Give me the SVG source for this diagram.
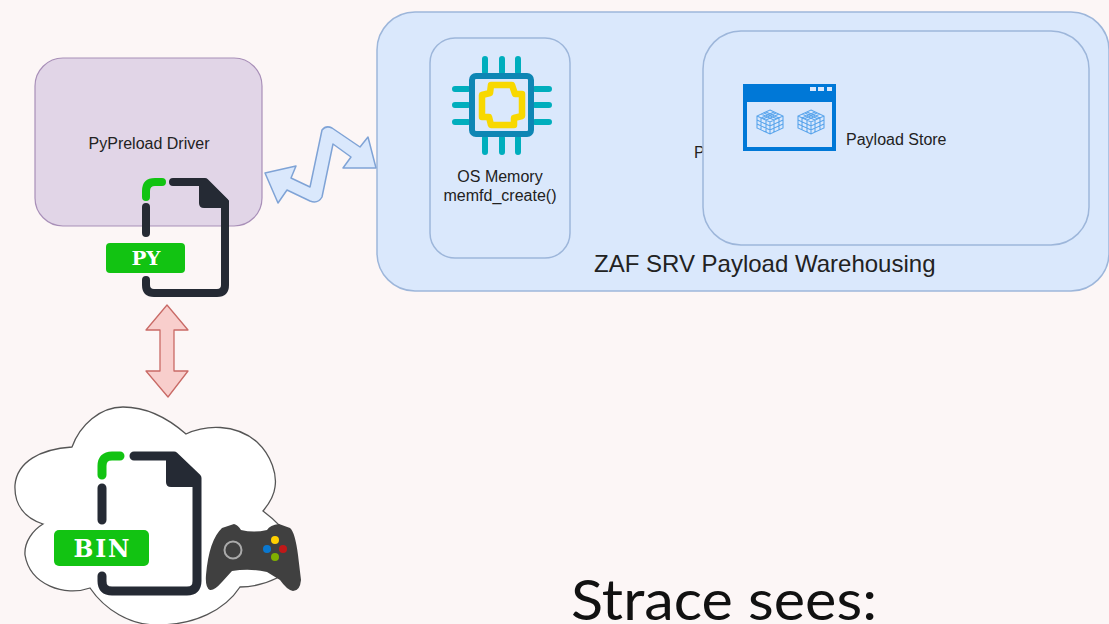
<svg xmlns="http://www.w3.org/2000/svg" width="1109" height="624" viewBox="0 0 1109 624">
<style>
.t{font-family:"Liberation Sans",Arial,sans-serif;fill:#222}
.m{font-family:"DejaVu Serif",serif;font-weight:bold;fill:#fff;text-anchor:middle}
.blue{fill:#dae8fc;stroke:#9db6da;stroke-width:1.5}
.dark{fill:none;stroke:#252a34;stroke-linecap:round;stroke-linejoin:round}
.green{fill:none;stroke:#12c312;stroke-linecap:round}
.pin{stroke:#00aebd;stroke-width:6;stroke-linecap:round}
.cube{fill:none;stroke:#5aa5ec;stroke-width:1.1}
</style>
<defs>
<g id="cube">
<path class="cube" d="M0-12 13-6V6L0 12-13 6V-6Z M-13-6 0 0 13-6 M0 0V12 M-13-2 0 4 13-2 M-13 2 0 8 13 2 M-9-8 4-2V10 M-4-10 9-4V8 M9-8-4-2V10 M4-10-9-4V8 M-6-9 7-3 M6-9-7-3"/>
</g>
</defs>
<rect width="1109" height="624" fill="#fcf6f6"/>
<g id="warehouse">
<rect class="blue" x="377" y="12" width="732" height="279" rx="38"/>
<text class="t" x="594" y="271.500" font-size="24">ZAF SRV Payload Warehousing</text>
</g>
<g id="driver">
<rect x="35" y="58" width="227" height="168" rx="28" fill="#e1d5e7" stroke="#a88fb8" stroke-width="1.2"/>
<text class="t" x="149" y="148.500" font-size="16" text-anchor="middle">PyPreload Driver</text>
</g>
<g id="py-file">
<path class="green" stroke-width="8" d="M162 182H155Q146 182 146 191V197"/>
<path class="dark" stroke-width="8" d="M146 207V233M146 280V285Q146 293 154 293H217Q225 293 225 285V202L205 182H173"/>
<path d="M199 180H207L229 201V208H204Q199 208 199 203Z" fill="#252a34"/>
<rect x="106" y="243" width="79" height="30" rx="4" fill="#12c312"/>
<text class="m" x="146" y="265" font-size="19" textLength="29" lengthAdjust="spacingAndGlyphs">PY</text>
</g>
<g id="memory">
<rect class="blue" x="430" y="38" width="140" height="220" rx="25"/>
<path class="pin" d="M485 59V72M502 59V72M518 59V72M485 138V152M502 138V152M518 138V152M455 89H468M455 105H468M455 122H468M535 89H549M535 105H549M535 122H549"/>
<rect x="472" y="76" width="59" height="58" rx="4" fill="#dae8fc" stroke="#0e86b4" stroke-width="6"/>
<path d="M491 85H512L515 94H522V116L514 118V125H491L489 117H482V95L490 93Z" fill="none" stroke="#f8d800" stroke-width="6.500" stroke-linejoin="round"/>
<text class="t" x="500" y="181.500" font-size="16" text-anchor="middle">OS Memory</text>
<text class="t" x="500" y="200.500" font-size="16" text-anchor="middle">memfd_create()</text>
</g>
<text class="t" x="694" y="157.500" font-size="16">P</text>
<g id="store">
<rect class="blue" x="703" y="31" width="386" height="214" rx="38"/>
<rect x="745" y="86" width="89" height="63" fill="none" stroke="#0078d7" stroke-width="4"/>
<rect x="743" y="84" width="93" height="18" fill="#0078d7"/>
<path d="M810 87h6v4h-6zM818 87h6v4h-6zM827 87h5v4h-5z" fill="#dae8fc"/>
<use href="#cube" x="770" y="122"/>
<use href="#cube" x="811" y="122"/>
<text class="t" x="846" y="144.500" font-size="16">Payload Store</text>
</g>
<g id="connectors">
<path d="M265 173 296 166 291 178 310 187 322 130Q326 125 332 128L360 147 368 137 376 168H343L351 157 333 144 322 197Q318 204 310 201L287 190 278 203Z" fill="#dae8fc" stroke="#7fa3d6" stroke-width="1.500" stroke-linejoin="round"/>
<path d="M167 305 188 330H174V371H188L168 397 146 371H160V330H146Z" fill="#f8cecc" stroke="#c96a66" stroke-width="1.300" stroke-linejoin="round"/>
</g>
<g id="cloud">
<path d="M72 447C80 425 100 407 123 407C148 407 170 420 186 434C205 425 235 423 257 442C272 456 277 475 275 487C274 497 268 505 263 511C275 520 285 530 290 540L277 578C265 584 252 587 240 587C225 610 195 625 157 625C130 625 105 610 90 588C65 597 30 585 25 555C24 542 33 530 43 524C25 518 14 505 15 485C17 462 40 449 72 447Z" fill="#fff" stroke="#555" stroke-width="1.300"/>
</g>
<g id="bin-file">
<path class="green" stroke-width="9" d="M120 456H112Q102 456 102 466V475"/>
<path class="dark" stroke-width="9" d="M102 488V520M102 576V581Q102 591 112 591H187Q197 591 197 581V478L174 456H134"/>
<path d="M166 454H175L201 478V487H171Q166 487 166 482Z" fill="#252a34"/>
<rect x="54" y="530" width="95" height="36" rx="5" fill="#12c312"/>
<text class="m" x="101.500" y="557" font-size="23.500" textLength="56" lengthAdjust="spacing">BIN</text>
</g>
<g id="controller">
<path d="M222 528 234 524Q238 525 241 530Q254 533 267 530Q270 525 279 524L290 528Q295 532 298 555L301 580Q300 591 293 591Q287 590 280 580L267 572Q250 568 232 571L222 582Q214 591 210 590Q205 588 206 575Q209 540 222 528Z" fill="#404040"/>
<circle cx="233" cy="550" r="8.500" fill="none" stroke="#aaa" stroke-width="2"/>
<circle cx="275" cy="540" r="4" fill="#ffd000"/>
<circle cx="267" cy="549" r="4" fill="#0a78d0"/>
<circle cx="283" cy="549" r="4" fill="#c01818"/>
<circle cx="275" cy="557" r="4" fill="#80b000"/>
</g>
<text x="571" y="620" font-family="Lato,'Open Sans',sans-serif" font-size="56" fill="#111" textLength="306" lengthAdjust="spacingAndGlyphs">Strace sees:</text>
</svg>
